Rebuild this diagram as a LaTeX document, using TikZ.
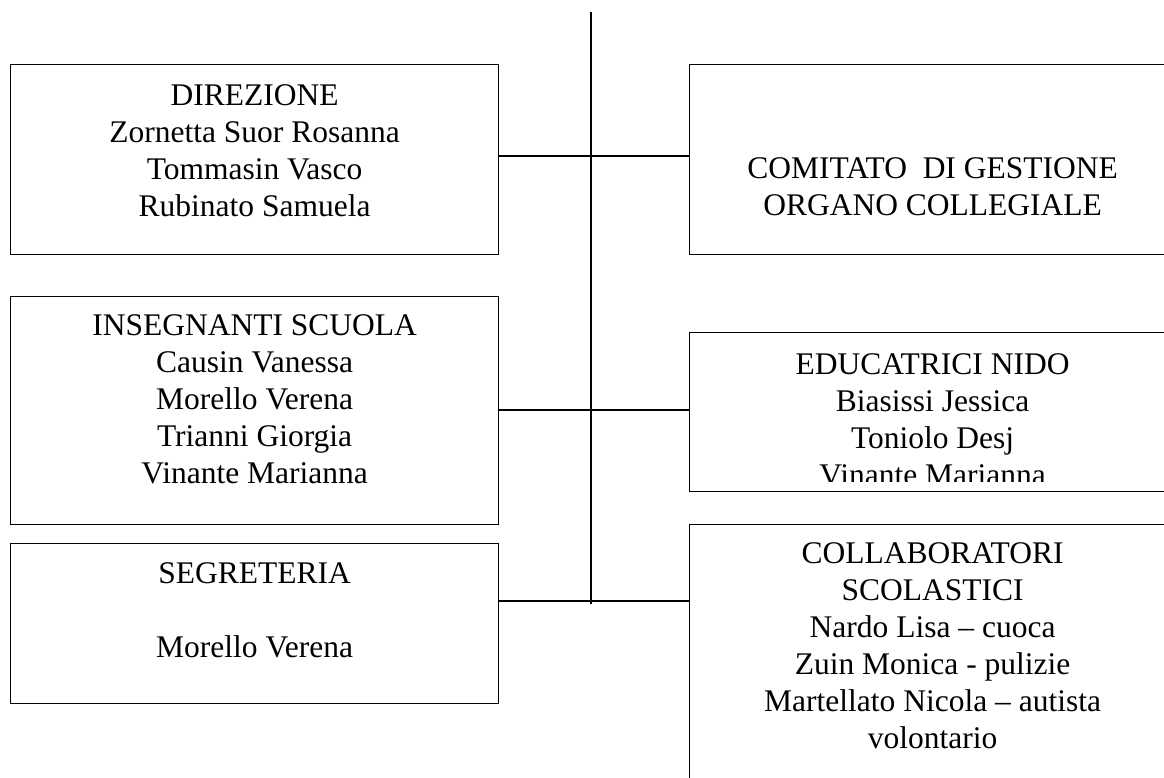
\documentclass[tikz,border=0pt]{standalone}
\usepackage{fontspec}
\setmainfont{Liberation Serif}
\usetikzlibrary{positioning}

\begin{document}
\begin{tikzpicture}[x=1pt, y=1pt,
    box/.style={draw, line width=1.2pt, inner sep=0pt, anchor=north west},
    txt/.style={inner sep=0pt, align=center, font=\fontsize{31.5}{37}\selectfont}]
  \useasboundingbox (0,0) rectangle (1164,778);
  \clip (0,0) rectangle (1164,778);

  % left boxes
  \node[box, minimum width=488pt, minimum height=190pt] (dir) at (10,714) {};
  \node[box, minimum width=488pt, minimum height=228pt] (ins) at (10,482) {};
  \node[box, minimum width=488pt, minimum height=160pt] (seg) at (10,235) {};

  % right boxes, cut by the page edge
  \node[box, minimum width=486pt, minimum height=190pt] (com) at (689,714) {};
  \node[box, minimum width=486pt, minimum height=159pt] (edu) at (689,446) {};
  \node[box, minimum width=486pt, minimum height=300pt] (col) at (689,254) {};

  % texts
  \node[txt, below=20pt of dir.north] (dirtxt)
    {DIREZIONE\\Zornetta Suor Rosanna\\Tommasin Vasco\\Rubinato Samuela};
  \node[txt, below=18pt of ins.north] (instxt)
    {INSEGNANTI SCUOLA\\Causin Vanessa\\Morello Verena\\Trianni Giorgia\\Vinante Marianna};
  \node[txt, below=19pt of seg.north] (segtxt)
    {SEGRETERIA\\[37pt]Morello Verena};
  \node[txt, below=93pt of com.north] (comtxt)
    {COMITATO\ \ DI GESTIONE\\ORGANO COLLEGIALE};
  \node[txt, below=18pt of col.north] (coltxt)
    {COLLABORATORI\\SCOLASTICI\\Nardo Lisa – cuoca\\Zuin Monica - pulizie\\Martellato Nicola – autista\\volontario};
  \begin{scope}
    \clip (689,296) rectangle (1175,446);
    \node[txt, below=21pt of edu.north] (edutxt)
      {EDUCATRICI NIDO\\Biasissi Jessica\\Toniolo Desj\\Vinante Marianna};
  \end{scope}

  % spine
  \coordinate (top) at (591,766);
  \coordinate (bot) at (591,174);
  \draw[line width=1.2pt] (top) -- (bot);

  % branches
  \foreach \l/\r/\y in {dir/com/622, ins/edu/368, seg/col/177} {
    \coordinate (j) at (591,\y);
    \draw[line width=1.2pt] (\l.east |- j) -- (j) -- (\r.west |- j);
  }
\end{tikzpicture}
\end{document}
